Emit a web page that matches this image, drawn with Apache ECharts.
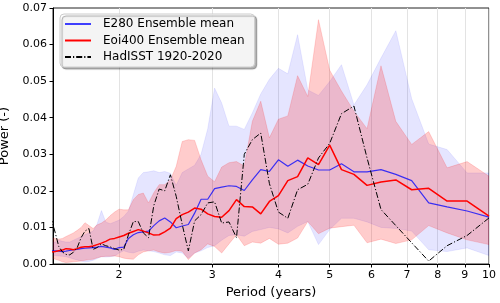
<!DOCTYPE html>
<html><head><meta charset="utf-8">
<script src="https://cdn.jsdelivr.net/npm/echarts@6/dist/echarts.min.js"></script>
<style>html,body{margin:0;padding:0;background:#fff}#c{width:500px;height:303px}</style>
</head><body><div id="c"></div>
<script>
// Periods (years) of spectral estimates
const periods = [10, 9.091, 8.333, 7.692, 7.143, 6.667, 6.25, 5.882, 5.556, 5.263,
  5, 4.762, 4.545, 4.348, 4.167, 4, 3.846, 3.704, 3.571, 3.448,
  3.333, 3.226, 3.125, 3.030, 2.941, 2.857, 2.778, 2.703, 2.632, 2.564,
  2.5, 2.439, 2.381, 2.326, 2.273, 2.222, 2.174, 2.128, 2.083, 2.041,
  2, 1.961, 1.923, 1.887, 1.852, 1.818, 1.786, 1.754, 1.724, 1.695,
  1.667, 1.639, 1.613, 1.587, 1.563, 1.538, 1.515, 1.493];

const e280Mean = [0.0128, 0.0145, 0.0156, 0.0167, 0.0228, 0.0245, 0.0258, 0.0252, 0.0252, 0.0274,
  0.0257, 0.0257, 0.0268, 0.0284, 0.0267, 0.0285, 0.0253, 0.0258, 0.0230, 0.0201,
  0.0212, 0.0214, 0.0210, 0.0206, 0.0177, 0.0177, 0.0139, 0.0108, 0.0104, 0.0099,
  0.0115, 0.0126, 0.0118, 0.0105, 0.0090, 0.0088, 0.0086, 0.0080, 0.0070, 0.0046,
  0.0045, 0.0040, 0.0044, 0.0046, 0.0048, 0.0046, 0.0045, 0.0044, 0.0043, 0.0042,
  0.0040, 0.0039, 0.0037, 0.0035, 0.0034, 0.0035, 0.0036, 0.0036];

const e280Upper = [0.0249, 0.0249, 0.0313, 0.0328, 0.0452, 0.0638, 0.0563, 0.0490, 0.0435, 0.0545,
  0.0499, 0.0461, 0.0476, 0.0627, 0.0520, 0.0535, 0.0505, 0.0465, 0.0413, 0.0368,
  0.0377, 0.0377, 0.0440, 0.0481, 0.0370, 0.0300, 0.0270, 0.0260, 0.0250, 0.0215,
  0.0248, 0.0253, 0.0250, 0.0255, 0.0252, 0.0250, 0.0235, 0.0190, 0.0145, 0.0130,
  0.0120, 0.0115, 0.0110, 0.0115, 0.0146, 0.0110, 0.0090, 0.0085, 0.0080, 0.0075,
  0.0070, 0.0065, 0.0060, 0.0060, 0.0062, 0.0065, 0.0060, 0.0058];

const e280Lower = [0.0023, 0.0044, 0.0034, 0.0039, 0.0090, 0.0097, 0.0100, 0.0115, 0.0125, 0.0125,
  0.0094, 0.0053, 0.0116, 0.0103, 0.0085, 0.0096, 0.0100, 0.0094, 0.0089, 0.0076,
  0.0080, 0.0078, 0.0065, 0.0050, 0.0045, 0.0036, 0.0030, 0.0016, 0.0030, 0.0033,
  0.0023, 0.0025, 0.0030, 0.0034, 0.0036, 0.0038, 0.0035, 0.0030, 0.0032, 0.0036,
  0.0030, 0.0022, 0.0020, 0.0019, 0.0020, 0.0015, 0.0010, 0.0007, 0.0006, 0.0008,
  0.0011, 0.0014, 0.0017, 0.0020, 0.0021, 0.0022, 0.0023, 0.0024];

const eoi400Mean = [0.0131, 0.0172, 0.0172, 0.0207, 0.0203, 0.0230, 0.0224, 0.0215, 0.0245, 0.0258,
  0.0325, 0.0272, 0.0290, 0.0239, 0.0228, 0.0187, 0.0171, 0.0137, 0.0156, 0.0157,
  0.0176, 0.0146, 0.0128, 0.0130, 0.0137, 0.0150, 0.0153, 0.0142, 0.0135, 0.0124,
  0.0098, 0.0088, 0.0080, 0.0079, 0.0085, 0.0090, 0.0094, 0.0089, 0.0084, 0.0078,
  0.0074, 0.0070, 0.0068, 0.0062, 0.0057, 0.0053, 0.0049, 0.0047, 0.0047, 0.0046,
  0.0042, 0.0039, 0.0041, 0.0042, 0.0038, 0.0036, 0.0034, 0.0033];

const eoi400Upper = [0.0240, 0.0280, 0.0263, 0.0362, 0.0327, 0.0390, 0.0542, 0.0370, 0.0418, 0.0473,
  0.0530, 0.0668, 0.0458, 0.0515, 0.0405, 0.0396, 0.0345, 0.0445, 0.0390, 0.0268,
  0.0280, 0.0277, 0.0265, 0.0225, 0.0240, 0.0285, 0.0338, 0.0340, 0.0335, 0.0267,
  0.0230, 0.0217, 0.0217, 0.0195, 0.0167, 0.0194, 0.0190, 0.0176, 0.0148, 0.0148,
  0.0150, 0.0142, 0.0132, 0.0120, 0.0112, 0.0107, 0.0097, 0.0105, 0.0113, 0.0100,
  0.0092, 0.0085, 0.0080, 0.0075, 0.0070, 0.0068, 0.0070, 0.0072];

const eoi400Lower = [0.0053, 0.0066, 0.0085, 0.0105, 0.0066, 0.0056, 0.0068, 0.0058, 0.0106, 0.0102,
  0.0098, 0.0083, 0.0116, 0.0071, 0.0057, 0.0054, 0.0070, 0.0057, 0.0060, 0.0050,
  0.0080, 0.0055, 0.0030, 0.0048, 0.0055, 0.0039, 0.0030, 0.0012, 0.0035, 0.0037,
  0.0032, 0.0030, 0.0033, 0.0038, 0.0036, 0.0033, 0.0025, 0.0013, 0.0014, 0.0016,
  0.0020, 0.0022, 0.0021, 0.0021, 0.0020, 0.0017, 0.0013, 0.0012, 0.0010, 0.0008,
  0.0007, 0.0006, 0.0005, 0.0004, 0.0006, 0.0010, 0.0013, 0.0016];

const hadisst = [0.0126, 0.0078, 0.0050, 0.0008, 0.0058, 0.0105, 0.0149, 0.0290, 0.0432, 0.0411,
  0.0330, 0.0290, 0.0218, 0.0203, 0.0125, 0.0142, 0.0220, 0.0358, 0.0340, 0.0300,
  0.0072, 0.0115, 0.0112, 0.0170, 0.0167, 0.0135, 0.0118, 0.0036, 0.0108, 0.0185,
  0.0244, 0.0200, 0.0205, 0.0160, 0.0072, 0.0085, 0.0116, 0.0116, 0.0080, 0.0040,
  0.0038, 0.0042, 0.0047, 0.0050, 0.0055, 0.0045, 0.0040, 0.0097, 0.0090, 0.0072,
  0.0045, 0.0032, 0.0025, 0.0026, 0.0033, 0.0048, 0.0085, 0.0118];

const xTicks = [2, 3, 4, 5, 6, 7, 8, 9, 10];

const pair = (arr) => periods.map((p, i) => [p, arr[i]]);

const FONT = 'DejaVu Sans';
const CLEAR = 'rgba(0,0,0,0)';
const chart = echarts.init(document.getElementById('c'), null, {renderer: 'canvas'});

function band(name, lo, hi, fill, edge) {
  return {
    name: name, type: 'custom', silent: true, z: 1, clip: true,
    data: periods.map((p, i) => [p, lo[i], hi[i]]),
    encode: {x: 0, y: [1, 2]},
    renderItem: function (params, api) {
      if (params.dataIndex !== 0) return null;
      const pts = [];
      for (let i = 0; i < periods.length; i++) pts.push(api.coord([periods[i], hi[i]]));
      for (let i = periods.length - 1; i >= 0; i--) pts.push(api.coord([periods[i], lo[i]]));
      const cs = params.coordSys;
      return {
        type: 'group',
        clipPath: {type: 'rect', shape: {x: cs.x, y: cs.y, width: cs.width, height: cs.height}},
        children: [{
          type: 'polygon', shape: {points: pts},
          style: {fill: fill, stroke: edge, lineWidth: 1}
        }]
      };
    }
  };
}

chart.setOption({
  animation: false,
  textStyle: {fontFamily: FONT},
  grid: {left: 53, right: 11, top: 8, bottom: 39, outerBoundsMode: 'none', containLabel: false,
    show: true, borderColor: '#222', borderWidth: 1, backgroundColor: 'transparent'},
  legend: {
    data: ['E280 Ensemble mean', 'Eoi400 Ensemble mean', 'HadISST 1920-2020'],
    orient: 'vertical', left: 60, top: 14,
    padding: [4, 10, 4, 4], itemGap: 4.5, itemWidth: 26, itemHeight: 14,
    backgroundColor: 'rgba(255,255,255,0.85)', borderColor: '#cccccc', borderWidth: 1, borderRadius: 4,
    shadowColor: 'rgba(0,0,0,0.35)', shadowBlur: 1, shadowOffsetX: 2, shadowOffsetY: 2,
    textStyle: {fontFamily: FONT, fontSize: 12, color: '#000', padding: [0, 0, 0, 7]}
  },
  xAxis: {
    type: 'log', logBase: 10, min: 1.5, max: 10,
    name: 'Period (years)', nameLocation: 'middle', nameGap: 22,
    nameTextStyle: {fontFamily: FONT, fontSize: 13, color: '#000'},
    axisLine: {show: true, lineStyle: {color: '#000', width: 1}},
    axisTick: {show: true, inside: false, length: 3.5, customValues: xTicks, lineStyle: {color: '#000'}},
    axisLabel: {customValues: xTicks, fontFamily: FONT, fontSize: 11, color: '#000', margin: 6,
      formatter: (v) => String(Math.round(v))},
    splitLine: {show: true, customValues: xTicks, lineStyle: {color: '#e3e3e3', width: 1}},
    minorTick: {show: false}, minorSplitLine: {show: false}
  },
  yAxis: {
    type: 'value', min: 0, max: 0.07, interval: 0.01,
    name: 'Power (-)', nameLocation: 'middle', nameGap: 32,
    nameTextStyle: {fontFamily: FONT, fontSize: 13, color: '#000'},
    axisLine: {show: true, lineStyle: {color: '#000', width: 1}},
    axisTick: {show: true, inside: false, length: 3.5, lineStyle: {color: '#000'}},
    axisLabel: {fontFamily: FONT, fontSize: 11, color: '#000', margin: 6,
      formatter: (v) => v.toFixed(2)},
    splitLine: {show: false}
  },
  series: [
    band('E280 range', e280Lower, e280Upper, 'rgba(0,0,255,0.1)', 'rgba(0,0,255,0.08)'),
    band('Eoi400 range', eoi400Lower, eoi400Upper, 'rgba(255,0,0,0.2)', 'rgba(255,0,0,0.15)'),
    {name: 'E280 Ensemble mean', type: 'line', data: pair(e280Mean), symbol: 'none',
     lineStyle: {color: 'rgba(0,0,255,0.75)', width: 1.2}, itemStyle: {color: CLEAR, borderColor: CLEAR, borderWidth: 0}, z: 3},
    {name: 'Eoi400 Ensemble mean', type: 'line', data: pair(eoi400Mean), symbol: 'none',
     lineStyle: {color: '#ff0000', width: 1.5}, itemStyle: {color: CLEAR, borderColor: CLEAR, borderWidth: 0}, z: 4},
    {name: 'HadISST 1920-2020', type: 'line', data: pair(hadisst), symbol: 'none',
     lineStyle: {color: '#000', width: 1, type: [6, 2, 1.2, 2]}, itemStyle: {color: CLEAR, borderColor: CLEAR, borderWidth: 0}, z: 5}
  ]
});
</script></body></html>
